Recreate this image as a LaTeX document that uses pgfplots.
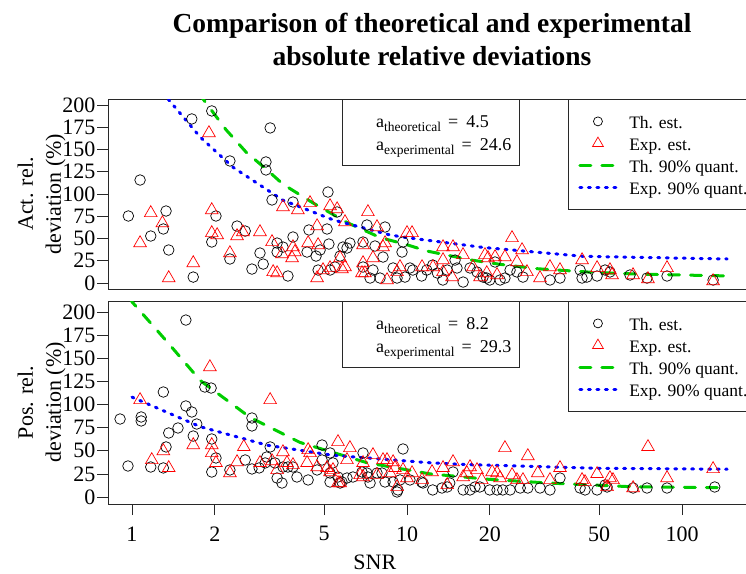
\documentclass[border=0pt]{standalone}
\usepackage{fontspec}
\setmainfont{Liberation Serif}
\usepackage{pgfplots}
\pgfplotsset{compat=1.18}
\definecolor{rgreen}{RGB}{0,205,0}
\definecolor{rblue}{RGB}{0,0,255}
\definecolor{rred}{RGB}{255,0,0}
\definecolor{framegray}{RGB}{40,40,40}

\begin{document}
\begin{tikzpicture}
\useasboundingbox (-108pt,99pt) rectangle (638pt,-474pt);
\node[align=center, font=\fontsize{27.5}{33}\selectfont\bfseries] at (324pt,59.5pt)
  {Comparison of theoretical and experimental\\absolute relative deviations};

% ---------------- Panel 1 ----------------
\begin{axis}[xmode=log, scale only axis, width=646pt, height=190pt,
  at={(0pt,0pt)}, anchor=north west,
  xmin=0.818, xmax=182.7, ymin=-6.7, ymax=206.7,
  xtick=\empty,
  ytick={0,25,50,75,100,125,150,175,200},
  axis line style={line width=0.8pt, framegray},
  tick align=outside, major tick length=11pt,
  xtick pos=left, ytick pos=left,
  tick style={line width=0.7pt, framegray},
  /pgf/number format/assume math mode=true,
  yticklabel style={font=\fontsize{22}{24}\selectfont, inner sep=1.5pt},
  ylabel={Act. rel.\\deviation (\%)},
  ylabel style={at={(axis description cs:-0.1029,0.5)}, anchor=center,
    font=\fontsize{22}{28}\selectfont, align=center},
  legend style={at={(axis description cs:0.7121,1)}, anchor=north west, draw=framegray, line width=0.8pt,
    font=\fontsize{17.5}{20}\selectfont, inner xsep=10pt, inner ysep=14pt,
    row sep=6pt, column sep=12pt,
    nodes={inner sep=0pt, text height=15pt, text depth=1pt}},
  legend cell align=left]
\addplot[only marks, mark=o, mark size=5.3pt, black, mark options={line width=0.7pt},
  legend image post style={xshift=3.5pt, mark size=4.5pt}] coordinates {
(1.07,115.7)(0.97,75.3)(1.33,80.9)(1.17,52.8)(1.30,60.7)(1.36,37.1)(1.67,6.7)(1.65,184.3)
(1.95,193.3)(2.02,75.3)(1.95,46.1)(2.27,137.1)(2.27,27)(2.41,64)(2.58,58.4)(3.18,174.2)
(3.07,136)(3.07,127)(2.92,33.7)(3.00,21.3)(2.73,15.7)(3.23,93.3)(3.69,7.9)(3.85,91)
(3.85,51.7)(3.37,44.9)(3.37,34.8)(3.54,40.4)(4.40,59.6)(4.33,34.8)(4.67,30.3)(5.16,102.2)
(5.12,60.7)(5.20,43.8)(4.75,14.6)(5.25,14.6)(5.71,30.3)(5.85,40.4)(6.20,44.9)(6.92,46.1)
(7.15,65.2)(7.65,41.6)(8.32,62.9)(8.18,29.2)(6.92,18)(7.52,14.6)(7.98,5.6)(9.59,34.8)
(9.67,46.1)(8.90,16.9)(9.83,6.7)(10.5,14.6)(11.3,7.9)(5.57,79.8)(4.83,37.1)(6.05,39.3)
(5.47,18)(7.34,5.6)(9.20,5.6)(10.25,16.9)(11.8,14.6)(12.9,11.2)(14.95,25.8)(15.2,16.9)
(16.95,16.9)(17.97,12.4)(18.9,6.7)(20.0,3.4)(13.5,3.4)(16.0,1.1)(20.9,23.6)(19.5,5.6)
(21.8,3.4)(22.7,5.6)(23.7,14.6)(25.1,12.4)(26.4,6.7)(33.1,3.4)(36.0,5.6)(42.6,14.6)
(43.3,5.6)(45.1,6.7)(49.1,7.9)(52.5,14.6)(54.7,12.4)(64.7,9)(74.6,5.6)(88.2,7.9)
(129.7,3.4)(12.4,20.2)(14.0,14.6)};
\addlegendentry{Th. est.}
\addplot[only marks, mark=triangle, mark size=7.3pt, rred, mark options={line width=0.7pt},
  legend image post style={xshift=3.5pt, mark size=6.3pt}] coordinates {
(1.17,78.7)(1.29,67.4)(1.07,44.9)(1.36,5.6)(1.905,168.5)(1.95,82)(1.95,56.2)(2.04,53.9)
(1.67,22.5)(2.27,33.7)(2.41,52.8)(2.92,57.3)(2.53,57.3)(3.23,46.1)(3.54,85.4)(4.01,82)
(4.44,89.9)(5.25,86.5)(5.57,83.1)(5.95,68.5)(7.21,79.8)(7.78,62.9)(8.32,44.9)(4.71,64)
(4.37,44.9)(4.75,42.7)(3.51,32.6)(3.82,28.1)(3.26,12.4)(3.91,34.8)(4.71,5.6)(5.25,16.9)
(5.71,28.1)(5.80,15.7)(6.92,22.5)(6.92,42.7)(7.52,28.1)(6.86,11.2)(8.46,3.4)(9.20,12.4)
(10.0,56.2)(10.43,56.2)(11.34,18)(9.43,18)(3.37,11.2)(3.85,40.4)(4.95,14.6)(5.95,18)
(7.03,11.2)(8.18,40.4)(12.43,18)(13.52,40.4)(13.52,25.8)(13.52,12.4)(14.58,6.7)(15.98,31.5)
(17.38,18)(18.43,6.7)(24.09,50.6)(26.2,37.1)(19.21,31.5)(20.9,29.2)(22.7,29.2)(25.1,23.6)
(19.5,11.2)(21.25,9)(27.3,12.4)(30.45,5.6)(33.1,18)(36.0,14.6)(43.3,25.8)(49.1,16.9)
(55.66,9)(66.36,9)(75.2,4.5)(88.2,16.9)(129.7,2.2)(14.7,40.4)(19.7,28.1)(54.7,14.6)};
\addlegendentry{Exp. est.}
\addplot[rgreen, line width=3pt, line cap=round, dash pattern=on 11pt off 11pt, no marks,
  legend image post style={xshift=-6pt, xscale=2.1}] coordinates {
(1.75,214)(1.81,207)(2.2,172)(2.6,147)(3.1,127)(3.54,111)(4.55,90)(6.05,68)(8,51)(10,43)
(11.8,36)(17,26)(21.8,21)(30,16)(47.5,12)(70,10)(100,9)(146,8)};
\addlegendentry{Th. 90\% quant.}
\addplot[rblue, line width=3pt, line cap=round, dash pattern=on 2pt off 6.5pt, no marks,
  legend image post style={xshift=-6pt, xscale=2.1}] coordinates {
(1.3,214)(1.35,207)(1.77,164)(2.33,130)(3.54,93)(5.38,71)(8.67,54)(10,51)(18.9,40)
(43.7,30)(146,27)};
\addlegendentry{Exp. 90\% quant.}
\draw[line width=0.8pt, framegray] (axis description cs:0.3622,1) rectangle ([yshift=-66pt]axis description cs:0.6362,1);
\node[anchor=base west, font=\fontsize{18}{20}\selectfont, inner sep=0pt] at ([yshift=-28pt]axis description cs:0.4149,1)
  {a\raisebox{-4pt}{\fontsize{13.5}{14}\selectfont theoretical}\hspace{7pt}=\hspace{8pt}4.5};
\node[anchor=base west, font=\fontsize{18}{20}\selectfont, inner sep=0pt] at ([yshift=-51pt]axis description cs:0.4149,1)
  {a\raisebox{-4pt}{\fontsize{13.5}{14}\selectfont experimental}\hspace{7pt}=\hspace{8pt}24.6};
\end{axis}

% ---------------- Panel 2 ----------------
\begin{axis}[xmode=log, scale only axis, width=646pt, height=203pt,
  at={(0pt,-202pt)}, anchor=north west,
  xmin=0.818, xmax=182.7, ymin=-7.6, ymax=211.9,
  xtick={1,2,5,10,20,50,100}, xticklabels={1,2,5,10,20,50,100},
  ytick={0,25,50,75,100,125,150,175,200},
  axis line style={line width=0.8pt, framegray},
  tick align=outside, major tick length=11pt,
  xtick pos=left, ytick pos=left,
  tick style={line width=0.7pt, framegray},
  /pgf/number format/assume math mode=true,
  yticklabel style={font=\fontsize{22}{24}\selectfont, inner sep=1.5pt},
  xticklabel style={font=\fontsize{22}{24}\selectfont, yshift=-8pt},
  ylabel={Pos. rel.\\deviation (\%)},
  ylabel style={at={(axis description cs:-0.1029,0.5)}, anchor=center,
    font=\fontsize{22}{28}\selectfont, align=center},
  xlabel={SNR},
  xlabel style={at={(axis description cs:0.413,0)}, anchor=center, yshift=-58.5pt,
    font=\fontsize{22}{26}\selectfont},
  legend style={at={(axis description cs:0.7121,1)}, anchor=north west, draw=framegray, line width=0.8pt,
    font=\fontsize{17.5}{20}\selectfont, inner xsep=10pt, inner ysep=14pt,
    row sep=6pt, column sep=12pt,
    nodes={inner sep=0pt, text height=15pt, text depth=1pt}},
  legend cell align=left]
\addplot[only marks, mark=o, mark size=5.3pt, black, mark options={line width=0.7pt},
  legend image post style={xshift=3.5pt, mark size=4.5pt}] coordinates {
(0.905,84.3)(0.967,33.5)(1.08,86.5)(1.08,82.2)(1.30,113.5)(1.33,54.1)(1.17,32.4)(1.30,31.4)
(1.36,69.2)(1.47,74.6)(1.57,191.3)(1.57,98.4)(1.65,91.9)(1.72,78.9)(1.67,65.9)(1.84,118.9)
(1.94,117.8)(1.95,62.7)(2.02,42.2)(1.95,27)(2.27,29.2)(2.73,85.4)(2.73,76.8)(2.58,40)
(2.73,30.3)(2.90,31.4)(3.05,36.8)(3.18,54.1)(3.09,43.2)(3.31,36.8)(3.54,32.4)(3.69,32.4)
(3.85,32.4)(3.37,20.5)(3.51,15.1)(3.98,21.6)(4.37,18.4)(4.71,29.2)(4.91,56.2)(4.91,40)
(5.25,47.6)(5.38,36.8)(5.25,16.2)(5.71,15.1)(6.05,20.5)(6.36,21.6)(5.25,25.9)(5.61,21.6)
(5.80,16.2)(6.92,47.6)(6.86,27)(7.21,21.6)(7.78,25.9)(7.34,15.1)(8.32,16.2)(7.15,25.9)
(8.11,25.9)(9.67,51.9)(9.43,18.4)(9.27,7.6)(10.25,18.4)(11.3,16.2)(8.90,16.2)(9.20,5.4)
(11.43,15.1)(12.4,7.6)(13.4,9.7)(14.0,10.8)(14.3,15.1)(14.7,27)(16.0,7.6)(16.95,7.6)
(17.67,10.8)(18.4,10.8)(20.0,7.6)(21.25,7.6)(22.3,7.6)(23.7,7.6)(25.8,9.7)(27.5,9.7)
(30.45,9.7)(33.1,7.6)(36.0,20.5)(42.6,9.7)(44.4,7.6)(49.1,7.6)(52.5,13)(53.4,10.8)
(66.4,9.7)(74.6,9.7)(88.2,9.7)(131.5,10.8)};
\addlegendentry{Th. est.}
\addplot[only marks, mark=triangle, mark size=7.3pt, rred, mark options={line width=0.7pt},
  legend image post style={xshift=3.5pt, mark size=6.3pt}] coordinates {
(1.07,104.9)(1.18,40)(1.30,49.7)(1.36,31.4)(1.92,140.5)(3.18,104.9)(1.67,56.2)(1.95,56.2)
(1.95,47.6)(2.02,36.8)(2.27,25.9)(2.41,37.8)(2.55,54.1)(2.92,36.8)(3.54,48.6)(3.23,38.9)
(3.37,29.2)(3.66,36.8)(3.85,34.6)(4.33,36.8)(4.44,47.6)(4.71,32.4)(5.12,31.4)(5.38,29.2)
(5.61,59.5)(6.20,53)(6.05,40)(5.71,15.1)(6.92,36.8)(7.52,45.4)(8.18,40)(8.46,40)
(6.92,21.6)(7.78,23.8)(9.04,31.4)(9.67,29.2)(10.43,25.9)(11.34,18.4)(10.0,20.5)(4.37,50.8)
(5.25,27)(5.61,15.1)(6.75,23.8)(8.9,37.8)(8.67,25.9)(9.2,10.8)(12.33,27)(13.52,31.4)
(14.7,37.8)(16.0,21.6)(14.0,13)(22.7,53)(27.5,44.3)(16.95,32.4)(17.97,29.2)(16.5,25.9)
(20.4,27)(21.25,25.9)(24.1,23.8)(18.7,18.4)(21.8,20.5)(25.1,18.4)(26.4,18.4)(29.9,25.9)
(33.1,18.4)(36.0,31.4)(43.3,18.4)(44.4,16.2)(49.1,24.9)(54.7,20.5)(56.1,18.4)(53.4,10.8)
(66.4,9.7)(75.2,54.1)(88.2,20.5)(129.7,30.3)};
\addlegendentry{Exp. est.}
\addplot[rgreen, line width=3pt, line cap=round, dash pattern=on 11pt off 11pt, no marks,
  legend image post style={xshift=-6pt, xscale=2.1}] coordinates {
(0.98,216)(1.0,211)(1.34,168)(1.77,126)(2.69,86)(4.08,59)(7.16,37)(12.1,25)(20,19)
(33.1,15)(66.5,11)(146,10)};
\addlegendentry{Th. 90\% quant.}
\addplot[rblue, line width=3pt, line cap=round, dash pattern=on 2pt off 6.5pt, no marks,
  legend image post style={xshift=-6pt, xscale=2.1}] coordinates {
(1.0,108)(1.77,76)(3.1,56)(5.38,45)(12.1,37)(16.5,35)(50.3,31)(146,30)};
\addlegendentry{Exp. 90\% quant.}
\draw[line width=0.8pt, framegray] (axis description cs:0.3622,1) rectangle ([yshift=-66pt]axis description cs:0.6362,1);
\node[anchor=base west, font=\fontsize{18}{20}\selectfont, inner sep=0pt] at ([yshift=-28pt]axis description cs:0.4149,1)
  {a\raisebox{-4pt}{\fontsize{13.5}{14}\selectfont theoretical}\hspace{7pt}=\hspace{8pt}8.2};
\node[anchor=base west, font=\fontsize{18}{20}\selectfont, inner sep=0pt] at ([yshift=-51pt]axis description cs:0.4149,1)
  {a\raisebox{-4pt}{\fontsize{13.5}{14}\selectfont experimental}\hspace{7pt}=\hspace{8pt}29.3};
\end{axis}
\end{tikzpicture}
\end{document}
